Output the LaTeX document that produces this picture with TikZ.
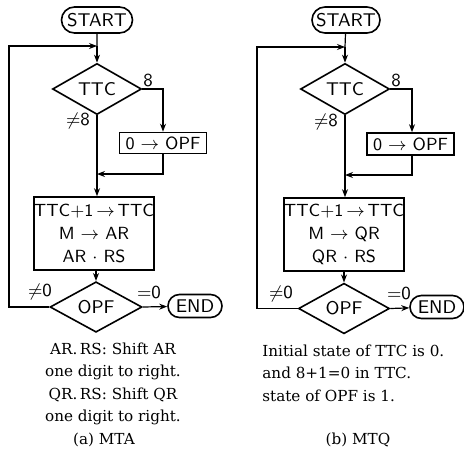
\documentclass[tikz,border=0pt]{standalone}
\usepackage{fontspec}
\newfontfamily\notefont{DejaVu Serif}
\usetikzlibrary{positioning, arrows.meta, shapes.geometric, shapes.misc}

\begin{document}
\begin{tikzpicture}[
  x=0.5pt, y=-0.5pt,
  term/.style={rounded rectangle, draw, line width=0.8pt, inner sep=0pt, font=\sffamily\fontsize{9.2}{11}\selectfont},
  box/.style={rectangle, draw, line width=0.8pt, inner sep=0pt, align=center, font=\sffamily\fontsize{8.8}{11.3}\selectfont},
  decision/.style={diamond, draw, line width=0.8pt, inner sep=0pt, font=\sffamily\fontsize{9.2}{11}\selectfont},
  lbl/.style={inner sep=1pt, font=\sffamily\fontsize{9.2}{11}\selectfont},
  note/.style={inner sep=0pt, font=\notefont\fontsize{7.6}{11.3}\selectfont},
  line/.style={line width=0.6pt},
  arr/.style={-{Stealth[length=4pt, width=3pt]}, line width=0.6pt}
]
\useasboundingbox (0,0) rectangle (464,449);

% (a) MTA
\node[term, minimum width=35.5pt, minimum height=13pt] (a-start) at (97,20) {START};
\coordinate (a-join) at (97,46);
\node[decision, minimum width=44.5pt, minimum height=20.5pt] (a-ttc) at (97,89) {TTC};
\node[lbl] (a-eq8) at (148,80) {8};
\node[lbl] (a-ne8) at (78,121) {$\neq$8};
\coordinate (a-turn) at (163,89);
\node[box, minimum width=43.5pt, minimum height=10.5pt] (a-clr) at (163,143) {0 $\rightarrow$ OPF};
\coordinate (a-merge) at (97,174);
\node[box, minimum width=54pt, minimum height=36.5pt] (a-calc) at (94,233.5) {TTC+1\,$\rightarrow$\,TTC\\M $\rightarrow$ AR\\AR $\cdot$ RS};
\node[decision, minimum width=46pt, minimum height=22pt] (a-opf) at (96,307) {OPF};
\node[lbl] (a-ne0) at (40,292) {$\neq$0};
\node[lbl] (a-eq0) at (149,292) {$=$0};
\node[term, minimum width=27pt, minimum height=11.5pt] (a-end) at (195,306) {END};
\coordinate (a-back) at (9,307);

\draw[line] (a-start) -- (a-join);
\draw[arr] (a-join) -- (a-ttc);
\draw[arr] (a-ttc.east) -- (a-turn) -- (a-clr);
\draw[arr] (a-clr) |- (a-merge);
\draw[line] (a-ttc) -- (a-merge);
\draw[arr] (a-merge) -- (a-merge |- a-calc.north);
\draw[arr] (a-opf |- a-calc.south) -- (a-opf);
\draw[arr] (a-opf.east) -- (a-end);
\draw[arr] (a-opf.west) -- (a-back) |- (a-join);

\node[note, align=center] (a-note) at (113,384) {AR.\,RS: Shift AR\\one digit to right.\\QR.\,RS: Shift QR\\one digit to right.};
\node[note] (a-title) at (104,440) {(a) MTA};

% (b) MTQ
\node[term, minimum width=34pt, minimum height=13pt] (b-start) at (346,20) {START};
\coordinate (b-join) at (345,47);
\node[decision, minimum width=44.5pt, minimum height=21pt] (b-ttc) at (345,89) {TTC};
\node[lbl] (b-eq8) at (396,80) {8};
\node[lbl] (b-ne8) at (326,122) {$\neq$8};
\coordinate (b-turn) at (412,89);
\node[box, minimum width=43.5pt, minimum height=11pt] (b-clr) at (410.5,144) {0 $\rightarrow$ OPF};
\coordinate (b-merge) at (345,175);
\node[box, minimum width=53pt, minimum height=36.5pt] (b-calc) at (344,234.5) {TTC+1\,$\rightarrow$\,TTC\\M $\rightarrow$ QR\\QR $\cdot$ RS};
\node[decision, minimum width=45.5pt, minimum height=21.5pt] (b-opf) at (344,308.5) {OPF};
\node[lbl] (b-ne0) at (281,294) {$\neq$0};
\node[lbl] (b-eq0) at (399,293) {$=$0};
\node[term, minimum width=27pt, minimum height=11.5pt] (b-end) at (437,307) {END};
\coordinate (b-back) at (257,308.5);

\draw[line] (b-start) -- (b-join);
\draw[arr] (b-join) -- (b-ttc);
\draw[arr] (b-ttc.east) -- (b-turn) -- (b-turn |- b-clr.north);
\draw[arr] (b-turn |- b-clr.south) |- (b-merge);
\draw[line] (b-ttc) -- (b-merge);
\draw[arr] (b-merge) -- (b-merge |- b-calc.north);
\draw[arr] (b-opf |- b-calc.south) -- (b-opf);
\draw[arr] (b-opf.east) -- (b-end);
\draw[arr] (b-opf.west) -- (b-back) |- (b-join);

\node[note, align=left, anchor=west] (b-note) at (262,373) {Initial state of TTC is 0.\\and 8+1=0 in TTC.\\state of OPF is 1.};
\node[note] (b-title) at (358,440) {(b) MTQ};
\end{tikzpicture}
\end{document}
